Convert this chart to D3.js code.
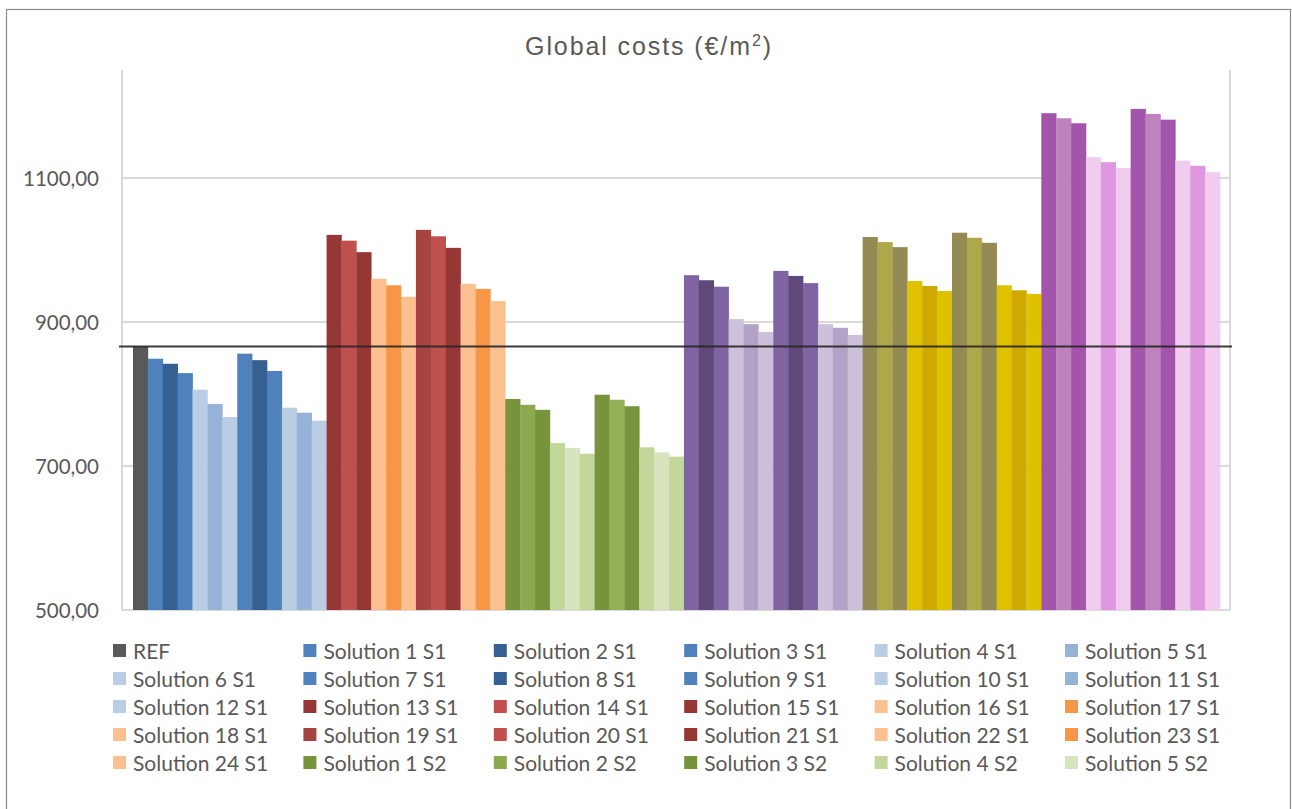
<!DOCTYPE html>
<html>
<head>
<meta charset="utf-8">
<script src="https://cdn.jsdelivr.net/npm/d3@7"></script>
<style>
  html, body { margin: 0; padding: 0; background: #fff; }
  svg { display: block; }
</style>
</head>
<body>
<svg id="chart" width="1292" height="809"></svg>
<script>
// Series names (one column per series, all in a single category)
const seriesNames = ["REF"]
  .concat(d3.range(1, 25).map(i => `Solution ${i} S1`))
  .concat(d3.range(1, 25).map(i => `Solution ${i} S2`))
  .concat(d3.range(1, 25).map(i => `Solution ${i} S3`));

// Global costs per series, €/m²
const refValue = [866];
const s1Values = [849, 842, 829, 806, 786, 768, 856, 847, 832, 781, 774, 763,
                  1021, 1013, 997, 960, 951, 935, 1028, 1019, 1003, 953, 946, 929];
const s2Values = [793, 785, 778, 732, 725, 717, 799, 792, 783, 726, 719, 713,
                  965, 958, 949, 904, 897, 886, 971, 964, 954, 897, 892, 882];
const s3Values = [1018, 1011, 1004, 957, 950, 943, 1024, 1017, 1010, 951, 944, 939,
                  1190, 1183, 1176, 1129, 1122, 1114, 1196, 1189, 1181, 1124, 1117, 1108];

const values = refValue.concat(s1Values, s2Values, s3Values);

// Fill colours per series
const refColor = ["#595959"];
const s1Colors = ["#4F81BD", "#366092", "#4F81BD", "#B9CDE5", "#95B3D7", "#B9CDE5",
                  "#4F81BD", "#366092", "#4F81BD", "#B9CDE5", "#95B3D7", "#B9CDE5",
                  "#953735", "#C0504D", "#953735", "#FAC090", "#F79646", "#FAC090",
                  "#A64441", "#C0504D", "#953735", "#FAC090", "#F79646", "#FAC090"];
const s2Colors = ["#77933C", "#8DA94F", "#77933C", "#C4D79B", "#D7E4BD", "#C4D79B",
                  "#77933C", "#93B057", "#77933C", "#C4D79B", "#D7E4BD", "#C4D79B",
                  "#8064A2", "#5F497A", "#8064A2", "#CCC0DA", "#B3A2C7", "#CCC0DA",
                  "#8064A2", "#5F497A", "#8064A2", "#CCC0DA", "#B3A2C7", "#CCC0DA"];
const s3Colors = ["#948A54", "#AFA84A", "#948A54", "#DEC200", "#CFA800", "#DEC200",
                  "#948A54", "#AFA84A", "#948A54", "#DEC200", "#CFA800", "#DEC200",
                  "#A355AB", "#BE82BF", "#A355AB", "#F0CCEF", "#DF97E0", "#F0CCEF",
                  "#A355AB", "#BE82BF", "#A355AB", "#F0CCEF", "#DF97E0", "#F0CCEF"];
const colors = refColor.concat(s1Colors, s2Colors, s3Colors);

const yTicks = [500, 700, 900, 1100];
const legendCount = 30; // the legend box only has room for the first 30 entries

const data = seriesNames.map((name, i) => ({ name, value: values[i], color: colors[i] }));

const svg = d3.select("#chart");
const plot = { left: 122, right: 1230, top: 70, bottom: 610 };

// Chart area border
svg.append("rect")
  .attr("x", 6.5).attr("y", 9.5)
  .attr("width", 1284).attr("height", 820)
  .attr("fill", "#fff")
  .attr("stroke", "#8c8c8c").attr("stroke-width", 1.2);

const y = d3.scaleLinear().domain([500, 1250]).range([plot.bottom, plot.top]);
const x = d3.scaleBand().domain(seriesNames).range([133, 1220]).padding(0);

// Gridlines
svg.append("g")
  .selectAll("line")
  .data(yTicks.filter(t => t > 500))
  .join("line")
  .attr("x1", plot.left).attr("x2", plot.right)
  .attr("y1", d => y(d)).attr("y2", d => y(d))
  .attr("stroke", "#d9d9d9").attr("stroke-width", 2);

// Frame lines: left, right, bottom
svg.append("g").selectAll("line")
  .data([[plot.left, plot.top, plot.left, plot.bottom],
         [plot.right, plot.top, plot.right, plot.bottom],
         [plot.left, plot.bottom, plot.right, plot.bottom]])
  .join("line")
  .attr("x1", d => d[0]).attr("y1", d => d[1])
  .attr("x2", d => d[2]).attr("y2", d => d[3])
  .attr("stroke", "#d9d9d9").attr("stroke-width", 2);

// Bars
svg.append("g")
  .selectAll("rect")
  .data(data)
  .join("rect")
  .attr("x", d => x(d.name))
  .attr("width", x.bandwidth() + 0.3)
  .attr("y", d => y(d.value))
  .attr("height", d => y(500) - y(d.value))
  .attr("fill", d => d.color);

// Reference level line
svg.append("line")
  .attr("x1", 119).attr("x2", 1232)
  .attr("y1", y(refValue[0])).attr("y2", y(refValue[0]))
  .attr("stroke", "#262626").attr("stroke-width", 2).attr("stroke-opacity", 0.9);

// Y axis labels
const fmt = d => d3.format(".2f")(d).replace(".", ",");
const yAxis = d3.axisLeft(y).tickValues(yTicks).tickFormat(fmt).tickSize(0).tickPadding(0);
const gy = svg.append("g").attr("transform", "translate(99,0)").call(yAxis);
gy.select(".domain").remove();
gy.selectAll("text")
  .attr("font-family", "Lato, 'Noto Sans', sans-serif")
  .attr("font-size", 20.5)
  .attr("fill", "#595959")
  .attr("dy", "0.36em");

// Title
const title = svg.append("text")
  .attr("x", 649).attr("y", 55)
  .attr("text-anchor", "middle")
  .attr("font-family", "'Liberation Sans', Arial, sans-serif")
  .attr("font-size", 25)
  .attr("letter-spacing", 1.9)
  .attr("fill", "#595959");
title.append("tspan").text("Global costs (€/m");
title.append("tspan").attr("font-size", 16).attr("dy", -9).text("2");
title.append("tspan").attr("dy", 9).text(")");

// Legend
const legend = svg.append("g")
  .selectAll("g")
  .data(data.slice(0, legendCount))
  .join("g")
  .attr("transform", (d, i) => `translate(${113 + (i % 6) * 190.4},${651 + Math.floor(i / 6) * 28})`);
legend.append("rect")
  .attr("x", 0).attr("y", -7)
  .attr("width", 13).attr("height", 13)
  .attr("fill", d => d.color);
legend.append("text")
  .attr("x", 20).attr("y", 0)
  .attr("dy", "0.36em")
  .attr("font-family", "Lato, 'Noto Sans', sans-serif")
  .attr("font-size", 21)
  .attr("fill", "#595959")
  .text(d => d.name);
</script>
</body>
</html>
